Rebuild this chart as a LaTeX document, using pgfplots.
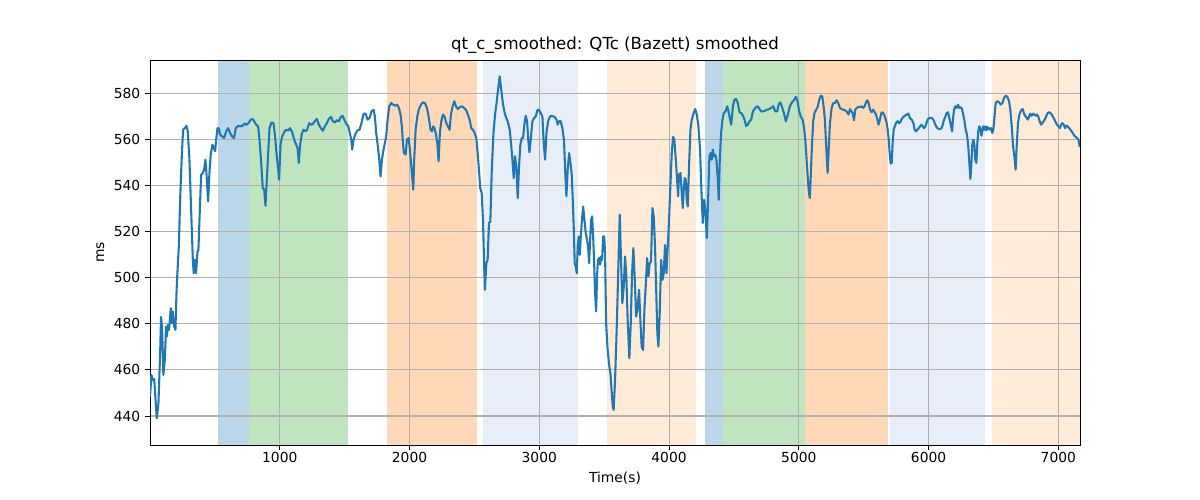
\documentclass[border=0pt]{standalone}
\usepackage{fontspec}
\setmainfont{DejaVu Sans}
\usepackage{pgfplots}
\pgfplotsset{compat=1.18}
\definecolor{tabblue}{HTML}{1F77B4}
\definecolor{spanblue}{RGB}{188,214,233}
\definecolor{spangreen}{RGB}{192,227,192}
\definecolor{spanorange}{RGB}{255,217,183}
\definecolor{spanlblue}{RGB}{231,238,248}
\definecolor{spanlorange}{RGB}{255,235,215}
\definecolor{gridgray}{HTML}{B0B0B0}
\begin{document}
\begin{tikzpicture}
\begin{axis}[
  at={(0,0)}, anchor=south west,
  scale only axis, width=9.3in, height=3.85in,
  set layers,
  xmin=0, xmax=7167, ymin=427.4, ymax=594.6,
  xtick={1000,2000,3000,4000,5000,6000,7000},
  ytick={440,460,480,500,520,540,560,580},
  /pgf/number format/assume math mode=true,
  /pgf/number format/1000 sep={},
  tick label style={font=\fontsize{10}{12}\selectfont},
  xticklabel style={yshift=2pt},
  tick align=outside, tick pos=left,
  major tick length=3.5pt,
  every tick/.style={black, line width=0.7pt},
  axis line style={line width=0.6pt},
  grid=major,
  grid style={gridgray, line width=0.8pt},
  title={qt\_c\_smoothed: QTc (Bazett) smoothed},
  title style={font=\fontsize{12}{14}\selectfont, yshift=-5pt},
  xlabel={Time(s)}, ylabel={ms},
  label style={font=\fontsize{10}{12}\selectfont},
]
\addplot[draw=none, fill=spanblue, on layer=axis background] coordinates {(527,427.4)(527,594.6)(764,594.6)(764,427.4)};
\addplot[draw=none, fill=spangreen, on layer=axis background] coordinates {(764,427.4)(764,594.6)(1528,594.6)(1528,427.4)};
\addplot[draw=none, fill=spanorange, on layer=axis background] coordinates {(1823,427.4)(1823,594.6)(2522,594.6)(2522,427.4)};
\addplot[draw=none, fill=spanlblue, on layer=axis background] coordinates {(2563,427.4)(2563,594.6)(3301,594.6)(3301,427.4)};
\addplot[draw=none, fill=spanlorange, on layer=axis background] coordinates {(3520,427.4)(3520,594.6)(4211,594.6)(4211,427.4)};
\addplot[draw=none, fill=spanblue, on layer=axis background] coordinates {(4276,427.4)(4276,594.6)(4412,594.6)(4412,427.4)};
\addplot[draw=none, fill=spangreen, on layer=axis background] coordinates {(4412,427.4)(4412,594.6)(5047,594.6)(5047,427.4)};
\addplot[draw=none, fill=spanorange, on layer=axis background] coordinates {(5047,427.4)(5047,594.6)(5684,594.6)(5684,427.4)};
\addplot[draw=none, fill=spanlblue, on layer=axis background] coordinates {(5700,427.4)(5700,594.6)(6435,594.6)(6435,427.4)};
\addplot[draw=none, fill=spanlorange, on layer=axis background] coordinates {(6491,427.4)(6491,594.6)(7167,594.6)(7167,427.4)};
\addplot[tabblue, line width=1.5pt, line join=round, mark=none] coordinates {
(0,448.4)(11,457.8)(22,455.7)(33,456)(39,450)(52,439)(65,445.5)(78,467)(85,483)(93,478.8)(103,457.8)(114,464.3)(124,478.8)(129,474.5)(139,479.6)(147,477.4)(160,486.8)(168,480.3)(175,485.4)(186,478.8)(196,477.4)(204,493.3)(211,502)(222,513.6)(234,536.8)(245,552.8)(255,564.3)(268,565)(281,566)(291,563.6)(304,551.3)(317,529.6)(330,507.8)(337,502)(348,507.8)(355,502)(366,511.4)(373,512)(384,529.6)(394,544.8)(407,545.5)(417,547)(427,551.3)(435,545.5)(448,533.2)(458,545.5)(468,553.5)(481,557.8)(492,556.4)(502,555)(510,560)(520,565)(530,565)(540,562.2)(556,561.4)(571,560.7)(587,563.6)(602,565)(617,562.9)(633,561.4)(648,560.7)(661,565)(679,566)(695,565.8)(713,566)(728,567)(743,566.5)(759,567.2)(777,568.7)(790,569)(803,568)(818,566.5)(833,565.8)(844,560)(857,549.9)(869,539)(880,538.3)(890,531.3)
(908,551.3)(921,565)(936,567.5)(952,567.2)(964,561.4)(977,552.8)(988,547)(995,542.6)(1006,557.8)(1018,561.4)(1034,563.2)(1049,564.3)(1065,564)(1080,565)(1096,563.2)(1111,560)(1126,557.8)(1137,556.4)(1147,549.9)(1157,557.8)(1170,562.6)(1183,564.3)(1198,563.6)(1211,564.3)(1227,567.2)(1240,566.5)(1255,566.8)(1270,568)(1286,569)(1301,566.5)(1317,565)(1332,563.9)(1348,565.8)(1363,567.2)(1378,569)(1394,569.9)(1409,568)(1425,567.5)(1440,568.4)(1456,568)(1471,569.9)(1484,570.4)(1497,568.7)(1512,567)(1528,565.8)(1540,562.9)(1551,560)(1558,555.7)(1569,560)(1584,562.6)(1599,564)(1615,564.3)(1630,567.2)(1646,571.3)(1661,571.3)(1677,568.7)(1692,569.4)(1707,572.3)(1723,573)(1733,570.1)(1743,562.9)(1756,557.1)(1767,551.3)(1777,544)(1787,551.3)(1800,555.7)
(1820,561.4)(1831,568.7)(1844,574.5)(1859,575.9)(1874,575.2)(1890,574.8)(1905,575.2)(1918,573.8)(1931,570.9)(1941,565.8)(1949,558.6)(1957,554.2)(1970,553.5)(1980,560)(1993,560.7)(2003,555.7)(2016,547)(2029,538.3)(2036,551.3)(2047,564.3)(2060,570.1)(2072,573.3)(2088,575.2)(2103,576.2)(2119,575.9)(2134,573.8)(2149,569.4)(2162,564.3)(2173,563.6)(2183,565.8)(2193,565)(2204,562.2)(2214,558.6)(2224,550.6)(2234,562.9)(2245,568)(2257,570.9)(2270,570.1)(2283,567.2)(2296,565.8)(2309,564.3)(2319,570.9)(2332,574.5)(2345,576.7)(2358,574.5)(2373,573.3)(2389,574.2)(2404,574.5)(2419,573.8)(2435,573)(2450,570.9)(2463,568.7)(2476,565)(2489,564.3)(2502,562.9)(2515,560.7)(2525,554.2)(2535,547)(2545,539)(2556,536.8)(2566,525.2)(2574,507.8)(2581,494.8)(2592,506.4)(2602,507.8)(2612,523.8)(2623,524.5)(2633,545.5)(2646,562.2)(2659,570.9)(2671,575.9)
(2679,580.3)(2695,587.5)(2708,581)(2721,575.2)(2733,571.6)(2746,569.4)(2759,567.5)(2772,564.3)(2782,558.6)(2793,551.3)(2803,543.3)(2813,552.8)(2823,548.4)(2834,534.6)(2844,548.4)(2854,557.8)(2865,560.7)(2875,560.7)(2885,566.5)(2895,570.4)(2906,568)(2916,559.3)(2924,554.5)(2934,560)(2947,568)(2960,569.4)(2973,570.1)(2985,572.8)(2998,573)(3011,571.6)(3024,570.1)(3034,558.6)(3045,551.3)(3055,562.9)(3068,568)(3081,569.9)(3093,570.4)(3106,570.1)(3119,569.9)(3132,568.7)(3142,566.5)(3152,568)(3165,568)(3178,565)(3191,559.3)(3199,547)(3209,535.4)(3219,547)(3230,554.2)(3240,549.9)(3250,544.8)(3258,533.9)(3266,520.9)(3273,506.4)(3281,504.9)(3289,502)(3296,513.6)(3304,518)(3312,510)(3320,518)(3327,523.8)(3338,531)(3348,525.2)(3358,519.4)(3368,516.5)(3376,513.6)(3384,506.4)(3392,516.5)(3399,525.2)(3407,526.7)(3415,518)(3422,507.8)(3430,493.3)(3438,485.4)(3446,502)(3453,507.8)(3461,508.6)(3469,505.7)(3476,509.3)(3484,507.8)(3492,518)(3500,518)(3507,510.7)(3515,480.3)(3525,470.1)(3538,462.2)(3548,458.6)
(3566,444.1)(3573,442.6)(3584,455.7)(3594,473)(3604,493.3)(3612,510.7)(3620,527.4)(3630,507.8)(3640,489)(3651,496.2)(3661,509.3)(3671,500.6)(3681,481.7)(3694,465.1)(3705,480.3)(3715,502)(3725,512.9)(3735,500.6)(3746,483.2)(3756,486.1)(3769,494.8)(3779,481.7)(3789,470.1)(3800,468.7)(3810,486.1)(3820,496.2)(3831,508.6)(3841,500.6)(3851,506.4)(3861,507.1)(3872,530.3)(3882,526.7)(3892,513.6)(3903,490.4)(3910,475.9)(3918,470.1)(3928,484.6)(3939,507.8)(3949,499.1)(3959,502)(3969,514.3)(3980,502)(3990,513.6)(4000,525.2)(4010,539.7)(4021,554.2)(4031,561.2)(4041,560)(4052,551.3)(4062,542.6)(4070,535.4)(4077,544.8)(4088,545.5)(4098,536.8)(4106,530.3)(4113,538.3)(4121,543.3)(4129,542.6)(4136,533.9)(4144,531)(4155,549.9)(4165,564.3)(4175,568.7)(4188,571.3)(4201,573.3)(4214,570.9)(4226,565.8)(4239,555.7)(4250,536.8)(4260,523.8)(4270,533.9)(4280,529.6)(4291,517.2)(4301,533.9)(4311,552.8)(4322,554.2)(4329,551.3)(4337,555.7)(4345,552.8)(4355,553.5)(4365,551.3)(4376,542.6)(4383,533.9)(4391,551.3)(4401,562.9)(4412,568.7)(4422,571.6)(4435,572.3)(4448,574.5)(4458,572.3)
(4479,566.5)(4492,574.5)(4504,577.4)(4517,577.7)(4530,575.9)(4543,571.9)(4556,571.6)(4569,570.4)(4582,568.7)(4594,565.8)(4607,566.5)(4620,568)(4633,568.7)(4646,572.3)(4659,573.3)(4672,574.2)(4684,574.5)(4697,573.3)(4710,572.3)(4726,572.3)(4741,572.6)(4756,573)(4772,573.3)(4787,573.8)(4803,574.5)(4818,572.3)(4834,572.3)(4844,575.2)(4857,576.2)(4869,574.5)(4885,571.6)(4900,568)(4916,570.9)(4931,574.5)(4947,576.2)(4962,577.1)(4978,578.6)(4990,576.7)(5003,572.3)(5016,569.9)(5029,568.7)(5039,565.8)(5050,560)(5060,551.3)(5070,542.6)(5078,536.8)(5085,534.6)(5093,545.5)(5101,557.1)(5111,568)(5121,571.6)(5134,573)(5147,574.5)(5157,577.4)(5170,579.1)(5181,578.8)(5191,574.5)(5201,568.7)(5211,557.1)(5222,545.5)(5229,554.2)(5240,567.2)(5253,573.8)(5265,575.9)(5278,575.9)(5291,577.1)(5304,575.9)(5317,573.8)(5330,573.3)(5343,573)(5355,572.8)(5368,572.3)
(5384,570.9)(5394,573.3)(5405,572.3)(5415,571.6)(5425,568.4)(5435,573)(5446,573.8)(5459,574.2)(5471,574.1)(5484,574.5)(5497,573.8)(5507,574.5)(5518,576.2)(5528,577.1)(5538,575.9)(5549,573)(5561,571.9)(5574,573)(5585,571.9)(5595,570.9)(5605,568.7)(5615,566.5)(5626,569)(5636,571.6)(5646,571.9)(5657,570.9)(5667,569.4)(5677,567.2)(5685,564.3)(5693,560)(5700,554.2)(5708,549.6)(5716,549.9)(5723,558.6)(5731,564.3)(5741,566.1)(5752,567.5)(5762,568)(5772,567.2)(5782,567.5)(5793,569)(5806,569.9)(5818,570.4)(5831,570.9)(5844,571.3)(5857,569.4)(5870,568.7)(5883,567.2)(5893,564.3)(5903,563.6)(5914,564.3)(5924,565)(5934,565.8)(5944,566.5)(5955,565.8)(5965,565)(5975,565.8)(5986,567.5)(5996,569)(6006,569.4)(6016,569.4)(6027,569.3)(6037,568.7)(6047,567.2)(6058,565.8)(6068,565)(6078,564.6)(6088,564.6)(6099,565)(6109,566.5)(6119,568.7)(6130,570.1)(6140,571.6)(6150,571.9)(6160,569.4)(6171,566.5)(6181,563.6)(6189,569.4)(6196,573)(6207,574.5)(6217,573.8)(6227,575.2)(6237,573.8)(6248,574.1)(6258,573.3)
(6275,568.7)(6286,564.3)(6296,562.2)(6306,557.1)(6314,549.9)(6322,542.9)(6329,548.4)(6337,557.8)(6345,560)(6353,557.8)(6360,551.3)(6368,549.9)(6376,558.6)(6383,563.6)(6391,565.8)(6399,565)(6407,561.7)(6414,563.6)(6422,565.8)(6430,564.3)(6437,565.8)(6445,564)(6453,565.5)(6461,564.6)(6468,565)(6476,564.3)(6484,565)(6491,562.9)(6499,564.3)(6507,569.4)(6517,575.9)(6530,576.7)(6543,576.2)(6556,575.2)(6569,575.9)(6581,578.1)(6594,579.1)(6607,578.6)(6620,576.7)(6630,573)(6641,565.8)(6651,557.1)(6661,552.8)(6671,547)(6679,557.1)(6689,567.2)(6700,570.9)(6713,572.8)(6725,573.3)(6738,570.9)(6751,569.9)(6764,568.7)(6774,569.9)(6784,571.3)(6795,570.4)(6805,571.3)(6815,570.9)(6826,570.4)(6836,570.9)(6846,569.9)(6856,568)(6867,566.5)(6877,567.2)(6887,568)(6898,569)(6908,570.4)(6918,571.6)(6928,571.9)(6939,571.6)(6949,570.9)(6959,569.9)(6970,568.7)(6980,567.5)(6990,566.5)(7000,565.8)(7011,565)(7021,566.5)(7031,567.2)(7042,566.5)(7052,565)(7062,566.1)(7072,565.8)(7083,565)(7093,564.3)(7103,563.6)(7114,562.6)(7124,561.7)(7134,561.2)(7144,560.7)(7155,560)(7165,556.8)
};
\end{axis}
\pgfresetboundingbox
\path[use as bounding box] (-1.5in,-0.55in) rectangle (10.5in,4.45in);
\end{tikzpicture}
\end{document}
